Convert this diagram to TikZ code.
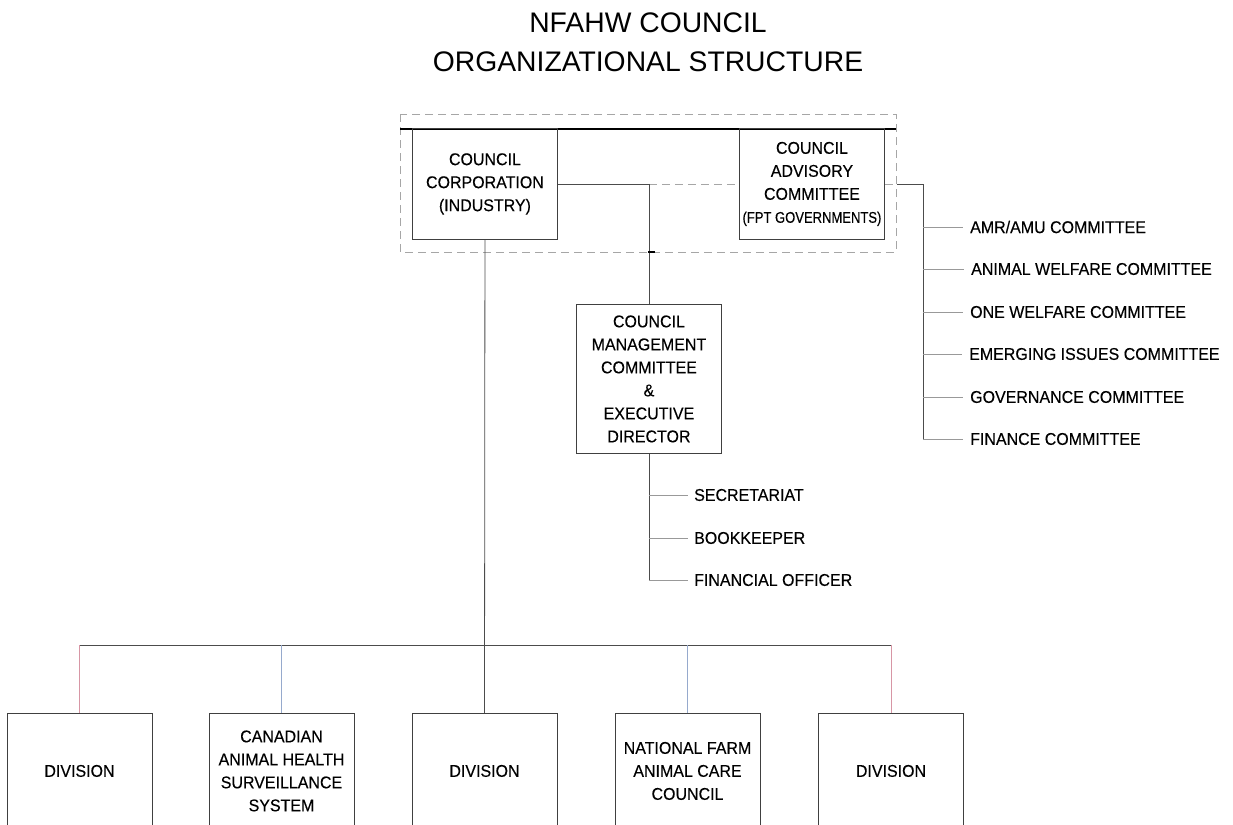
\documentclass[tikz,border=0pt]{standalone}
\usepackage{fontspec}
\setmainfont{Liberation Sans}
\newfontfamily\bodyfont[FakeStretch=0.94,FakeBold=0.25]{Liberation Sans}
\newfontfamily\narrowfont[FakeStretch=0.84,FakeBold=0.25]{Liberation Sans}
\usetikzlibrary{positioning}
\definecolor{riserpink}{RGB}{215,150,165}
\definecolor{riserblue}{RGB}{150,170,205}

\begin{document}
\begin{tikzpicture}[x=1pt,y=-1pt,
  unitbox/.style={draw=black!75,line width=0.9pt,align=center,
    font=\bodyfont\fontsize{17}{23}\selectfont,minimum width=145pt,inner sep=0pt},
  staff/.style={anchor=west,inner sep=0pt,font=\bodyfont\fontsize{17}{19}\selectfont},
  link/.style={draw=black!70,line width=0.8pt},
  twig/.style={draw=black!40,line width=0.7pt},
  grpline/.style={draw=black!35,line width=0.8pt,dash pattern=on 8pt off 5pt}]
\useasboundingbox (0,0) rectangle (1233,824);

% title
\node[align=center,font=\fontsize{28.3}{39}\selectfont] (title) at (648,42)
  {NFAHW COUNCIL\\ORGANIZATIONAL STRUCTURE};

% council group
\draw[grpline] (400,114) rectangle (896,252);
\draw[line width=1.8pt] (400,129) -- (896,129);
\node[unitbox,minimum height=111pt,anchor=north west] (corp) at (412,128)
  {COUNCIL\\CORPORATION\\(INDUSTRY)};
\node[unitbox,minimum height=111pt,anchor=north west] (adv) at (739,128)
  {COUNCIL\\ADVISORY\\COMMITTEE\\{\narrowfont\fontsize{15.5}{23}\selectfont(FPT GOVERNMENTS)}};
\node[unitbox,minimum height=149pt,anchor=north west] (mgmt) at (576,304)
  {COUNCIL\\MANAGEMENT\\COMMITTEE\\\&\\EXECUTIVE\\DIRECTOR};

\draw[link] (corp.east) -- (corp.east -| mgmt.north) coordinate (jn);
\draw[grpline] (jn) -- (adv.west);
\draw[link] (jn) -- (mgmt.north);
\draw[line width=1.6pt] (648,252) -- (655,252);

% committees
\node[staff] (amr) at (970,227) {AMR/AMU COMMITTEE};
\node[staff] (awc) at (971,269) {ANIMAL WELFARE COMMITTEE};
\node[staff] (owc) at (970,312) {ONE WELFARE COMMITTEE};
\node[staff] (eic) at (969,354) {EMERGING ISSUES COMMITTEE};
\node[staff] (gov) at (970,397) {GOVERNANCE COMMITTEE};
\node[staff] (fin) at (970,439) {FINANCE COMMITTEE};

\coordinate (cbus) at (923,184);
\draw[grpline] (adv.east) -- ++(12,0) coordinate (cgate);
\draw[link] (cgate) -- (cbus |- cgate) -- (cbus |- fin.west);
\foreach \c in {amr,awc,owc,eic,gov,fin}
  \draw[twig] (cbus |- \c.west) -- ([xshift=-7pt]\c.west);

% management staff
\node[staff] (sec) at (694,495) {SECRETARIAT};
\node[staff] (book) at (694,538) {BOOKKEEPER};
\node[staff] (fo) at (694,580) {FINANCIAL OFFICER};
\draw[link] (mgmt.south) -- (mgmt.south |- fo.west);
\foreach \s in {sec,book,fo}
  \draw[twig] (mgmt.south |- \s.west) -- ([xshift=-6pt]\s.west);

% divisions
\node[unitbox,minimum height=115pt,anchor=north] (div1) at (79.5,713) {DIVISION};
\node[unitbox,minimum height=115pt,anchor=north] (cahss) at (281.5,713)
  {CANADIAN\\ANIMAL HEALTH\\SURVEILLANCE\\SYSTEM};
\node[unitbox,minimum height=115pt,anchor=north] (div3) at (484.5,713) {DIVISION};
\node[unitbox,minimum height=115pt,anchor=north] (nfacc) at (687.5,713)
  {NATIONAL FARM\\ANIMAL CARE\\COUNCIL};
\node[unitbox,minimum height=115pt,anchor=north] (div5) at (891,713) {DIVISION};

\coordinate (busL) at (79.5,645);
\draw[link] (corp.south) -- (div3.north);
\draw[link] (busL) -- (busL -| div5.north);
\draw[riserpink,line width=0.8pt] (div1.north |- busL) -- (div1.north);
\draw[riserblue,line width=0.8pt] (cahss.north |- busL) -- (cahss.north);
\draw[riserblue,line width=0.8pt] (nfacc.north |- busL) -- (nfacc.north);
\draw[riserpink,line width=0.8pt] (div5.north |- busL) -- (div5.north);
\end{tikzpicture}
\end{document}
